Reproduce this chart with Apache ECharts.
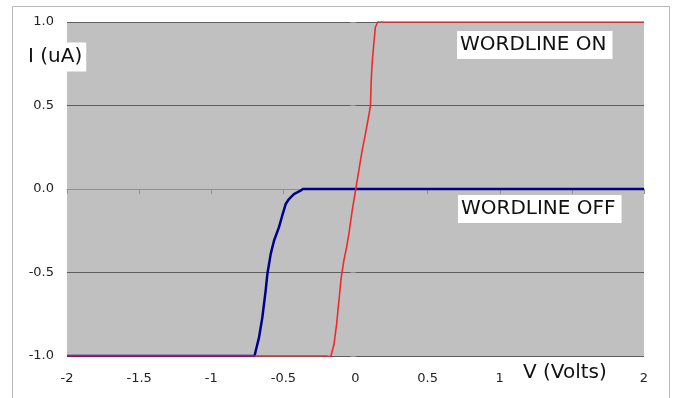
<!DOCTYPE html>
<html>
<head>
<meta charset="utf-8">
<script src="https://cdn.jsdelivr.net/npm/echarts@6/dist/echarts.min.js"></script>
<style>
html,body{margin:0;padding:0;background:#fff;}
#chart{width:674px;height:398px;}
</style>
</head>
<body>
<div id="chart"></div>
<script>
// Data
var seriesNames = ['WORDLINE OFF', 'WORDLINE ON'];
var wordlineOff = [
  [-2, -1], [-0.72, -1], [-0.71, -1.01], [-0.70, -1.0], [-0.692, -0.97], [-0.669, -0.89],
  [-0.646, -0.77], [-0.623, -0.61], [-0.611, -0.51], [-0.588, -0.39], [-0.565, -0.31],
  [-0.531, -0.23], [-0.508, -0.16], [-0.484, -0.09], [-0.461, -0.06], [-0.427, -0.03],
  [-0.381, -0.01], [-0.365, 0], [2, 0]
];
var wordlineOn = [
  [-2, -1], [-0.2, -1], [-0.184, -1.005], [-0.17, -1.0], [-0.149, -0.93], [-0.131, -0.81],
  [-0.115, -0.67], [-0.099, -0.53], [-0.081, -0.43], [-0.062, -0.35], [-0.046, -0.27],
  [-0.023, -0.13], [0, -0.01], [0.023, 0.11], [0.046, 0.23], [0.069, 0.33], [0.092, 0.44],
  [0.104, 0.50], [0.108, 0.63], [0.115, 0.75], [0.127, 0.87], [0.138, 0.97], [0.155, 1.0],
  [0.170, 1.01], [0.185, 1.0], [2, 1]
];
var xTicks = [-2, -1.5, -1, -0.5, 0, 0.5, 1, 1.5, 2];
var yTicks = [-1.0, -0.5, 0.0, 0.5, 1.0];
var yAxisTitle = 'I (uA)';
var xAxisTitle = 'V (Volts)';
var labelOn = 'WORDLINE ON';
var labelOff = 'WORDLINE OFF';

var chart = echarts.init(document.getElementById('chart'));
var tickFont = 'DejaVu Sans';
var bigFont = '20px "DejaVu Sans"';
chart.setOption({
  animation: false,
  backgroundColor: '#ffffff',
  grid: {
    left: 67, right: 30, top: 22, bottom: 42,
    show: true, backgroundColor: '#c0c0c0', borderWidth: 0
  },
  xAxis: {
    type: 'value',
    min: xTicks[0], max: xTicks[xTicks.length - 1], interval: 0.5,
    axisLine: { show: true, lineStyle: { color: '#909090', width: 1 } },
    axisTick: { show: true, length: 5, lineStyle: { color: '#909090' } },
    axisLabel: { color: '#222', fontFamily: tickFont, fontSize: 13, margin: 16 },
    splitLine: { show: false }
  },
  yAxis: {
    type: 'value',
    min: yTicks[0], max: yTicks[yTicks.length - 1], interval: 0.5,
    axisLine: { show: false },
    axisTick: { show: true, length: 5, lineStyle: { color: '#909090' } },
    axisLabel: { color: '#222', fontFamily: tickFont, fontSize: 13, margin: 13,
      formatter: function (v) { return v.toFixed(1); } },
    splitLine: { show: true, lineStyle: { color: '#5e5e5e', width: 1 } }
  },
  series: [
    {
      name: seriesNames[0], type: 'line', data: wordlineOff, showSymbol: false,
      lineStyle: { color: '#00008b', width: 2.5 }, z: 3
    },
    {
      name: seriesNames[1], type: 'line', data: wordlineOn, showSymbol: false,
      lineStyle: { color: '#ee2a2a', width: 1.6 }, z: 4
    }
  ],
  graphic: [
    { type: 'rect', silent: true, z: 100,
      shape: { x: 12.5, y: 6.5, width: 657, height: 400 },
      style: { fill: 'none', stroke: '#b8b8b8', lineWidth: 1 } },
    { type: 'text', x: 25, y: 57, z: 100,
      style: { text: yAxisTitle, font: bigFont, fill: '#111', backgroundColor: '#ffffff',
        padding: [5, 4, 4, 3], align: 'left', verticalAlign: 'middle' } },
    { type: 'text', x: 520, y: 373, z: 100,
      style: { text: xAxisTitle, font: bigFont, fill: '#111', backgroundColor: '#ffffff',
        padding: [3, 3, 3, 3], align: 'left', verticalAlign: 'middle' } },
    { type: 'text', x: 457, y: 45, z: 100,
      style: { text: labelOn, font: bigFont, fill: '#111', backgroundColor: '#ffffff',
        padding: [4, 6, 4, 3], align: 'left', verticalAlign: 'middle' } },
    { type: 'text', x: 458, y: 209, z: 100,
      style: { text: labelOff, font: bigFont, fill: '#111', backgroundColor: '#ffffff',
        padding: [4, 6, 4, 3], align: 'left', verticalAlign: 'middle' } }
  ]
});
</script>
</body>
</html>
